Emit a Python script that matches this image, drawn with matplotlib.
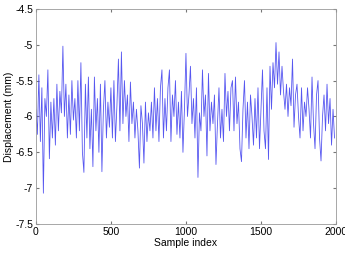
import numpy as np
import matplotlib.pyplot as plt

plt.rcParams['axes.unicode_minus'] = False
plt.rcParams['font.family'] = ['Liberation Sans', 'DejaVu Sans']

# displacement, one value per 10 samples
disp = [
    -5.9, -6.25, -5.42, -6.35, -5.6, -7.07, -5.75, -6.0, -5.35, -6.59,
    -5.8, -6.3, -5.75, -6.4, -5.55, -6.2, -5.65, -5.95, -5.02, -6.0,
    -5.55, -6.3, -5.7, -6.25, -5.5, -6.05, -5.75, -6.3, -5.5, -6.2,
    -5.25, -6.5, -6.78, -5.55, -6.3, -5.45, -6.45, -5.9, -6.7, -5.45,
    -6.2, -5.75, -6.5, -5.55, -6.77, -5.9, -5.5, -6.3, -5.8, -6.15,
    -5.6, -6.3, -5.5, -6.35, -5.85, -5.2, -6.2, -5.1, -6.1, -5.5,
    -6.0, -5.7, -6.35, -5.52, -6.1, -5.8, -6.3, -5.9, -6.2, -6.72,
    -5.85, -6.1, -6.65, -5.8, -6.35, -5.95, -6.2, -5.8, -6.3, -5.6,
    -6.2, -5.75, -6.35, -5.6, -5.35, -6.3, -5.75, -6.2, -5.6, -5.35,
    -6.35, -5.7, -6.0, -5.5, -6.25, -5.8, -6.3, -5.65, -6.5, -5.9,
    -5.12, -6.0, -5.7, -5.3, -6.1, -5.75, -6.3, -5.6, -6.85, -5.95,
    -6.2, -5.35, -6.0, -5.7, -6.55, -5.4, -6.2, -5.8, -6.1, -5.7,
    -6.67, -6.1, -5.6, -6.3, -5.9, -6.35, -5.4, -6.0, -5.65, -6.2,
    -5.6, -5.5, -6.2, -5.45, -6.1, -5.8, -6.45, -6.63, -5.9, -5.5,
    -6.3, -5.8, -6.45, -5.7, -6.0, -6.4, -5.75, -6.3, -5.6, -6.45,
    -5.9, -5.35, -6.2, -6.45, -5.6, -6.6, -5.3, -5.9, -5.25, -5.6,
    -4.97, -5.55, -5.1, -5.7, -5.3, -5.65, -5.9, -5.55, -6.0, -5.6,
    -5.85, -5.2, -6.15, -5.7, -5.55, -6.0, -6.3, -5.6, -6.2, -5.8,
    -6.0, -5.6, -5.9, -6.3, -5.45, -6.1, -6.45, -5.7, -5.5, -6.3,
    -6.62, -6.0, -5.7, -6.2, -5.55, -6.1, -5.75, -6.4, -5.9, -6.3,
]
sample = np.arange(len(disp)) * 10

xticks = [0, 500, 1000, 1500, 2000]
yticks = [-7.5, -7, -6.5, -6, -5.5, -5, -4.5]
ylabels = ['-7.5', '-7', '-6.5', '-6', '-5.5', '-5', '-4.5']

fig = plt.figure(figsize=(3.45, 2.54), dpi=100)
ax = fig.add_axes([0.104, 0.118, 0.870, 0.847])
ax.plot(sample, disp, color='#3a3aee', linewidth=0.6, alpha=0.85)

ax.set_xlim(0, 2000)
ax.set_ylim(-7.5, -4.5)
ax.set_xticks(xticks)
ax.set_yticks(yticks)
ax.set_yticklabels(ylabels)
ax.tick_params(direction='in', length=2, labelsize=7.5, top=True, right=True,
               colors='#777777', labelcolor='black', pad=2)
for s in ax.spines.values():
    s.set_color('#999999')
    s.set_linewidth(0.6)
ax.set_xlabel('Sample index', fontsize=7.5, labelpad=1)
ax.set_ylabel('Displacement (mm)', fontsize=7.5, labelpad=1)

fig.savefig('out.png', dpi=100)
